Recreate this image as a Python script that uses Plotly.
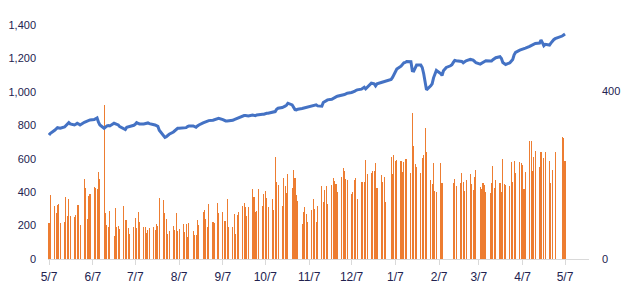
import pandas as pd
import plotly.graph_objects as go

# Trading days (weekdays) from 2020-05-07 to 2021-05-07
dates = pd.bdate_range("2020-05-07", "2021-05-07")

# Line series (left axis), one value per weekday, grouped by week (Mon..Fri)
price = [
    742, 752,
    770, 780, 786, 784, 782,
    790, 800, 808, 816, 808,
    802, 806, 812, 808, 802,
    818, 822, 826, 828, 832,
    834, 838, 844, 818, 802,
    782, 792, 796, 798, 796,
    812, 808, 804, 802, 792,
    776, 774, 788, 790, 792,
    800, 806, 816, 812, 808,
    808, 810, 816, 814, 810,
    806, 802, 798, 794, 770,
    740, 728, 732, 742, 746,
    760, 768, 780, 782, 782,
    782, 784, 786, 792, 796,
    796, 792, 788, 796, 802,
    814, 818, 822, 824, 828,
    830, 832, 836, 840, 842,
    834, 828, 826, 826, 826,
    830, 834, 838, 840, 846,
    854, 858, 858, 856, 856,
    862, 860, 858, 862, 864,
    866, 866, 870, 872, 872,
    876, 878, 882, 896, 902,
    906, 908, 914, 920, 932,
    922, 904, 894, 892, 896,
    900, 902, 902, 906, 910,
    914, 916, 920, 922, 916,
    914, 936, 942, 946, 952,
    956, 962, 966, 970, 974,
    978, 982, 984, 988, 992,
    996, 998, 1002, 1008, 1012,
    1016, 1024, 1028, 1018, 1026,
    1052, 1050, 1048, 1036, 1048,
    1056, 1058, 1060, 1064, 1068,
    1074, 1086, 1102, 1120, 1136,
    1154, 1168, 1174, 1176, 1182,
    1180, 1126, 1124, 1140, 1160,
    1160, 1146, 1110, 1060, 1012,
    1036, 1048, 1084, 1112, 1128,
    1110, 1098, 1126, 1138, 1146,
    1156, 1162, 1176, 1188, 1186,
    1180, 1182, 1174, 1180, 1186,
    1194, 1192, 1190, 1182, 1174,
    1166, 1170, 1174, 1180, 1186,
    1184, 1184, 1192, 1200, 1204,
    1210, 1200, 1176, 1168, 1164,
    1174, 1184, 1194, 1222, 1236,
    1250, 1254, 1256, 1260, 1262,
    1272, 1276, 1280, 1284, 1290,
    1292, 1310, 1294, 1276, 1284,
    1280, 1292, 1304, 1312, 1318,
    1326, 1330, 1334, 1340, 1346,
]

# Bar series, one value per weekday (None = no bar)
volume = [
    218, 384,
    318, 278, 322, 330, 218,
    222, 372, 260, 360, 260,
    254, 264, 324, 324, 206,
    480, 426, 242, 378, 390,
    432, 426, 420, 522, 480,
    920, 276, 206, 190, 288,
    140, 308, 192, 200, 182,
    318, 236, 236, 188, 150,
    192, 248, 188, 282, 224,
    194, 194, 158, 176, 186,
    194, 176, 210, 200, 362,
    356, 278, 242, 152, 168,
    198, 176, 278, 168, 182,
    210, 162, 210, 132, 216,
    168, 144, 144, 234, 204,
    282, 294, 240, 192, 330,
    222, 216, None, 336, 276,
    282, 228, 228, 360, 192,
    192, 270, 150, 264, 282,
    318, 336, 312, 258, 312,
    420, 372, 282, 288, 420,
    318, 390, 408, 366, 312,
    360, 294, 612, 462, 444,
    318, 486, 438, 396, 510,
    426, 534, 486, 384, 348,
    210, 282, 312, 270, 222,
    294, 360, 300, 222, 318,
    438, 342, 414, 438, 330,
    444, 486, 468, 450, 402,
    492, 546, 528, 480, 474,
    390, 402, 474, 486, 360,
    462, 462, 462, 594, 510,
    516, 528, 528, 576, 426,
    504, 462, 492, 342, None,
    612, 510, 624, 588, 594,
    588, 522, 582, 600, 600,
    516, 876, 678, 570, 552,
    516, 606, 624, 786, 642,
    474, 450, 576, 408, 402,
    576, 456, None, None, None,
    None, None, 456, 480, 438,
    456, 516, 462, 408, 474,
    510, 450, 414, 492, 534,
    432, 420, 456, 444, 402,
    396, 456, 558, 426, 474,
    456, 402, 600, 450, 444,
    438, 582, 462, 588, 516,
    582, 576, 564, 420, 522,
    708, 708, 528, 612, 648,
    552, 642, None, 606, 642,
    588, 456, 534, None, 642,
    None, None, 732, 726, 588,
]

tick_dates = ["2020-05-07", "2020-06-07", "2020-07-07", "2020-08-07", "2020-09-07",
              "2020-10-07", "2020-11-07", "2020-12-07", "2021-01-07", "2021-02-07",
              "2021-03-07", "2021-04-07", "2021-05-07"]
tick_labels = ["5/7", "6/7", "7/7", "8/7", "9/7", "10/7", "11/7", "12/7",
               "1/7", "2/7", "3/7", "4/7", "5/7"]
left_ticks = [0, 200, 400, 600, 800, 1000, 1200, 1400]
right_ticks = [0, 400]

font_color = "#22224f"
font_family = "Liberation Sans, Arial, sans-serif"

fig = go.Figure()
fig.add_trace(go.Bar(
    x=dates, y=volume, marker_color="#ED7D31", marker_line_width=0,
    width=0.05 * 86400000, showlegend=False, hoverinfo="skip",
))
fig.add_trace(go.Scatter(
    x=dates, y=price, mode="lines",
    line=dict(color="#4472C4", width=3), showlegend=False,
))
# empty trace so the secondary (right) axis is drawn
fig.add_trace(go.Scatter(x=[], y=[], yaxis="y2", showlegend=False, hoverinfo="skip"))

fig.update_layout(
    width=622, height=302,
    margin=dict(l=48, r=33, t=25, b=43, autoexpand=False),
    paper_bgcolor="white", plot_bgcolor="white",
    font=dict(family=font_family, size=11, color=font_color),
    xaxis=dict(
        type="date",
        range=["2020-05-06 07:00", "2021-05-23 23:00"],
        tickvals=tick_dates, ticktext=tick_labels,
        ticks="outside", ticklen=5, tickcolor="#d9d9d9", tickwidth=1,
        showline=True, linecolor="#d9d9d9", linewidth=1,
        showgrid=False, zeroline=False, automargin=False,
        tickfont=dict(size=12, color=font_color),
        ticklabelstandoff=2,
    ),
    yaxis=dict(
        range=[0, 1400], tickvals=left_ticks, tickformat=",",
        showgrid=False, zeroline=False, showline=False, ticks="",
        ticklabelstandoff=11, automargin=False,
    ),
    yaxis2=dict(
        overlaying="y", side="right", range=[0, 556], tickvals=right_ticks,
        showgrid=False, zeroline=False, showline=False, ticks="",
        ticklabelstandoff=12, automargin=False,
    ),
    bargap=0,
)

fig.write_html("out.html")
